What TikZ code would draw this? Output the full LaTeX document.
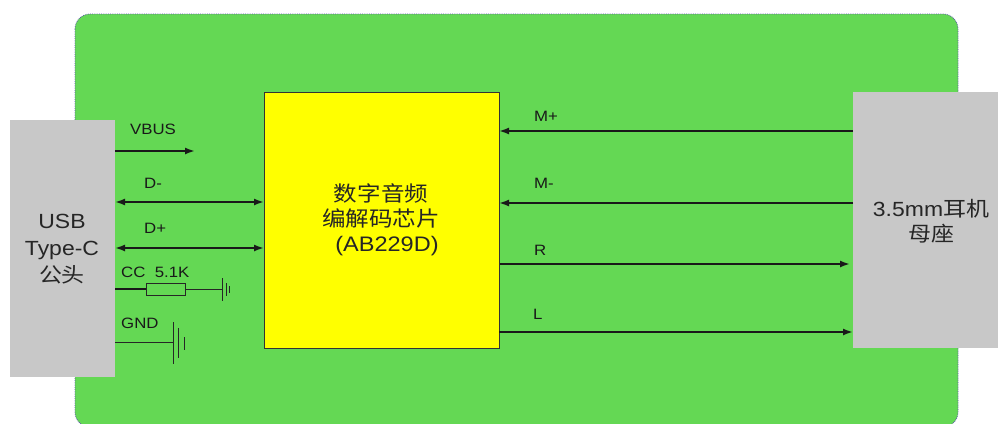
\documentclass[tikz,border=0pt]{standalone}
\usepackage{fontspec}
\setmainfont[FakeStretch=1.12]{Liberation Sans}
\newfontfamily\cjk[FakeStretch=1.12]{Noto Sans CJK SC}
\usetikzlibrary{arrows.meta}
\definecolor{bggreen}{HTML}{64D854}
\definecolor{boxgray}{HTML}{C8C8C8}
\definecolor{chipyellow}{HTML}{FFFF00}
\begin{document}
\begin{tikzpicture}[x=1pt,y=-1pt,
  sig/.style={line width=1.8pt,draw=black!90,-{Latex[length=10pt,width=7pt]}},
  bisig/.style={line width=1.8pt,draw=black!90,{Latex[length=10pt,width=7pt]}-{Latex[length=10pt,width=7pt]}},
  lbl/.style={font=\fontsize{15}{17}\selectfont,anchor=west,inner sep=0pt,text=black!90},
  wire/.style={line width=1pt,draw=black!85},
  conn/.style={fill=boxgray,draw=none,inner sep=0pt}]
\useasboundingbox (0,0) rectangle (998,423);
\fill[bggreen,draw=gray!70!blue,densely dotted,line width=0.8pt,rounded corners=15pt] (75,14) rectangle (958,427);
% connectors
\node[conn,minimum width=105pt,minimum height=257pt] (usb) at (62.5,248.5) {};
\node[align=center,font=\fontsize{20.5}{27}\selectfont,text=black!85] (usbt) at (62,249) {USB\\Type-C\\{\cjk 公头}};
\node[conn,minimum width=150pt,minimum height=256pt] (jack) at (928,220) {};
\node[align=center,font=\fontsize{20.5}{25}\selectfont,text=black!85] (jackt) at (931,221) {3.5mm{\cjk 耳机}\\{\cjk 母座}};
% chip
\node[fill=chipyellow,draw=black!80,line width=0.8pt,minimum width=235pt,minimum height=256pt,inner sep=0pt] (chip) at (381.5,220) {};
\node[align=center,font=\fontsize{21}{25}\selectfont,text=black!85] (chipt) at (381,220) {{\cjk 数字音频}\\{\cjk 编解码芯片}\\\hspace*{12pt}(AB229D)};
% left coordinates
\coordinate (vb0) at (115,151);
\coordinate (vb1) at (195,151);
\coordinate (dm0) at (115,202);
\coordinate (dm1) at (264,202);
\coordinate (dp0) at (115,248);
\coordinate (dp1) at (264,248);
\draw[sig] (vb0) -- (vb1);
\draw[bisig] (dm0) -- (dm1);
\draw[bisig] (dp0) -- (dp1);
\node[lbl] (lvb) at (130,129) {VBUS};
\node[lbl] (ldm) at (144,183) {D-};
\node[lbl] (ldp) at (144,228) {D+};
% CC resistor
\coordinate (cc0) at (115,289);
\node[draw=black!85,line width=0.9pt,fill=bggreen,minimum width=39pt,minimum height=12pt,inner sep=0pt] (res) at (165.5,289) {};
\coordinate (cg) at (222,289);
\draw[line width=1.8pt,draw=black!90] (cc0) -- (res.west);
\draw[wire] (res.east) -- (cg);
\draw[wire] (222,278) -- (222,301);
\draw[wire] (226,283) -- (226,296);
\draw[wire] (229,286) -- (229,293);
\node[lbl] (lcc) at (121,272) {CC\ \ 5.1K};
% GND
\coordinate (g0) at (115,342);
\coordinate (g1) at (173,342);
\draw[wire] (g0) -- (g1);
\draw[wire] (173,322) -- (173,364);
\draw[wire] (178,328) -- (178,358);
\draw[wire] (184,337) -- (184,350);
\node[lbl] (lgnd) at (121,323) {GND};
% right signals
\coordinate (mp0) at (853,131);
\coordinate (mp1) at (499,131);
\coordinate (mm0) at (853,203);
\coordinate (mm1) at (499,203);
\coordinate (r0) at (500,264);
\coordinate (r1) at (850,264);
\coordinate (l0) at (499,332);
\coordinate (l1) at (853,332);
\draw[sig] (mp0) -- (mp1);
\draw[sig] (mm0) -- (mm1);
\draw[sig] (r0) -- (r1);
\draw[sig] (l0) -- (l1);
\node[lbl] (lmp) at (534,116) {M+};
\node[lbl] (lmm) at (534,183) {M-};
\node[lbl] (lr) at (534,250) {R};
\node[lbl] (ll) at (533,314) {L};
\end{tikzpicture}
\end{document}
